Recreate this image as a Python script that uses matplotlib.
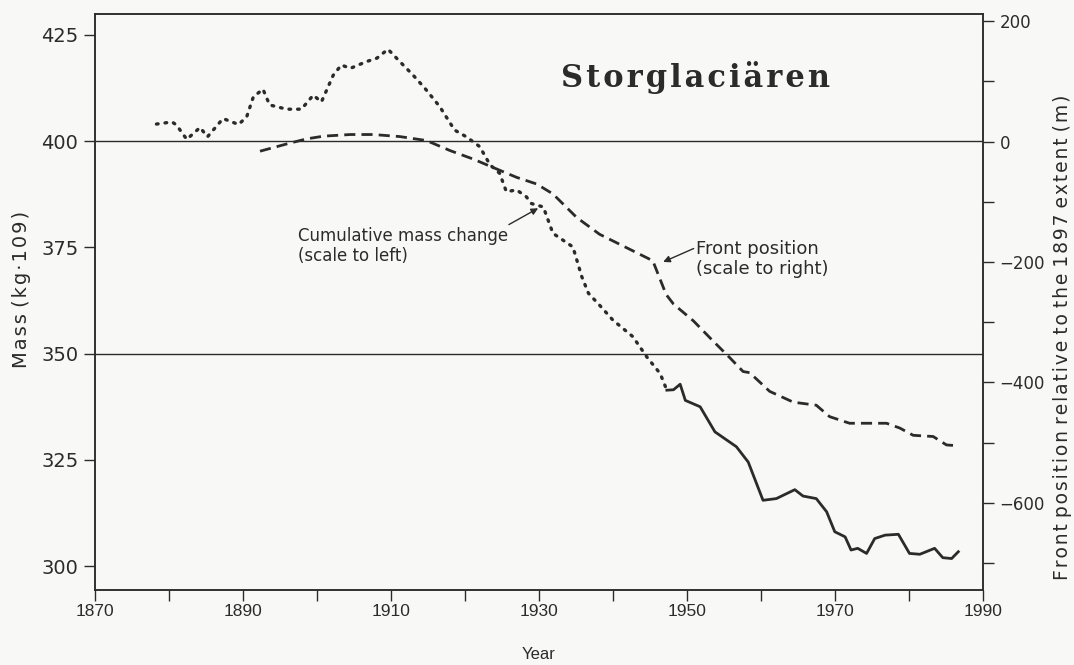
import numpy as np
import matplotlib
matplotlib.use("Agg")
import matplotlib.pyplot as plt
from matplotlib.ticker import MultipleLocator, FixedLocator

# cumulative mass change, dotted part (scale to left)
years_dot = [1878.3, 1880.4, 1881.0, 1882.4, 1884.2, 1885.2, 1887.3, 1889.4, 1890.5, 1891.4,
             1892.7, 1893.6, 1895.9, 1897.9, 1899.5, 1900.6, 1902.2, 1903.3, 1904.5, 1906.7,
             1908.1, 1909.6, 1911.2, 1913.0, 1914.6, 1916.6, 1918.6, 1920.2, 1922.0, 1923.4,
             1924.7, 1925.6, 1927.0, 1928.3, 1929.0, 1930.6, 1931.9, 1934.6, 1935.8, 1936.7,
             1938.2, 1940.0, 1942.7, 1944.6, 1946.4, 1947.3]
mass_dot = [404.0, 404.5, 403.8, 400.4, 403.2, 401.0, 405.3, 403.9, 405.7, 410.4,
            412.2, 408.5, 407.5, 407.5, 410.8, 409.2, 415.5, 417.9, 417.1, 418.7,
            419.5, 421.6, 418.7, 415.5, 412.4, 408.1, 402.6, 401.0, 398.7, 394.4,
            392.4, 388.1, 388.5, 386.9, 385.3, 384.5, 378.3, 375.1, 368.1, 364.2,
            361.4, 357.9, 354.0, 349.2, 345.3, 341.4]

# measured part, solid line
years_solid = [1947.3, 1948.2, 1949.1, 1949.8, 1951.8, 1953.8, 1956.7, 1958.3, 1960.3, 1962.1,
               1964.6, 1965.7, 1967.5, 1968.9, 1970.0, 1971.4, 1972.2, 1973.1, 1974.3, 1975.4,
               1976.8, 1978.6, 1980.1, 1981.5, 1983.5, 1984.6, 1985.8, 1986.7]
mass_solid = [341.4, 341.5, 342.8, 339.0, 337.5, 331.6, 328.1, 324.5, 315.5, 315.9,
              318.0, 316.5, 315.9, 312.8, 308.1, 306.9, 303.8, 304.2, 303.0, 306.5,
              307.3, 307.5, 303.0, 302.8, 304.2, 302.0, 301.8, 303.4]

# front position relative to 1897 (scale to right)
years_front = [1892.3, 1895.9, 1898.6, 1900.9, 1904.5, 1907.6, 1911.2, 1914.8, 1918.0, 1921.1,
               1923.8, 1927.0, 1929.7, 1931.9, 1935.1, 1938.2, 1941.8, 1945.4, 1947.2, 1948.2,
               1950.9, 1953.6, 1955.8, 1957.6, 1958.5, 1961.2, 1964.4, 1967.5, 1969.3, 1972.0,
               1977.0, 1978.8, 1980.6, 1983.3, 1985.1, 1986.2]
front_pos = [-16, -4, 4.5, 9, 11.7, 11.7, 8.3, 1.7, -15, -29,
             -43, -59.5, -70.5, -87, -126, -154, -176, -198, -254, -270,
             -298, -332, -359, -382, -384, -415, -433, -438, -457, -468,
             -468, -476, -488, -490, -504, -505]

year_ticks = [1870, 1890, 1910, 1930, 1950, 1970, 1990]
ref_lines = [400, 350]

ink = "#2b2b2b"
bg = "#f8f9f7"


def spaced(s, sep="\u200a"):
    # the scanned figure has loose letter spacing; leave word gaps alone
    out = s[0]
    for a, b in zip(s, s[1:]):
        if a != " " and b != " ":
            out += sep
        out += b
    return out


fig = plt.figure(figsize=(10.74, 6.65), dpi=100, facecolor=bg)
ax = fig.add_axes([0.0885, 0.1128, 0.8265, 0.8662])
ax.set_facecolor(bg)

ax.plot(years_dot, mass_dot, color=ink, lw=2.4, linestyle=(0, (0.5, 2.1)),
        dash_capstyle="round")
ax.plot(years_solid, mass_solid, color=ink, lw=2.0)
for yv in ref_lines:
    ax.axhline(yv, color=ink, lw=1.0)

ax.set_xlim(1870, 1990)
ax.set_ylim(294.4, 429.9)
ax.xaxis.set_major_locator(FixedLocator(year_ticks))
ax.xaxis.set_minor_locator(MultipleLocator(10))
ax.yaxis.set_major_locator(MultipleLocator(25))
ax.tick_params(axis="x", which="both", direction="out", length=8, width=1,
               colors=ink, labelsize=12.5, pad=2)
ax.tick_params(axis="y", direction="out", length=8, width=1, colors=ink,
               labelsize=14, pad=4)
for lab in ax.get_xticklabels():
    lab.set_fontfamily("Liberation Sans")
for sp in ax.spines.values():
    sp.set_color(ink)
    sp.set_linewidth(1.1)
ax.set_xlabel("Year", fontsize=12, color=ink, family="Liberation Sans", labelpad=20)
ax.set_ylabel(spaced("Mass (kg·109)"), fontsize=14, color=ink)
ax.yaxis.set_label_coords(-0.072, 0.521)

ax2 = ax.twinx()
ax2.plot(years_front, front_pos, color=ink, lw=2.0, linestyle=(0, (4, 2.2)))
ax2.set_ylim(-745, 212)
ax2.yaxis.set_major_locator(FixedLocator([-600, -400, -200, 0, 200]))
ax2.yaxis.set_minor_locator(MultipleLocator(100))
ax2.tick_params(axis="y", which="both", direction="out", length=8, width=1,
                colors=ink, labelsize=12, pad=4)
ax2.set_yticklabels([f"{int(v)}" if v >= 0 else f"\u2212{int(-v)}" for v in ax2.get_yticks()])
ax2.set_ylim(-745, 212)
for sp in ax2.spines.values():
    sp.set_color(ink)
    sp.set_linewidth(1.1)
ax2.set_ylabel(spaced("Front position relative to the 1897 extent (m)"), fontsize=13.5,
               color=ink)
ax2.yaxis.set_label_coords(1.079, 0.439)

ax.text(0.676, 0.889, spaced("Storglaciären"), transform=ax.transAxes,
        ha="center", va="center", fontsize=22, fontweight="bold",
        family="DejaVu Serif", color=ink)

ax.annotate("Cumulative mass change\n(scale to left)", xy=(1929.9, 384.2),
            xytext=(1897.5, 375.3), fontsize=12, color=ink, va="center",
            linespacing=1.1,
            arrowprops=dict(arrowstyle="-|>", color=ink, lw=1.0, mutation_scale=10,
                            shrinkA=0, shrinkB=0, relpos=(0.93, 0.85)))
ax2.annotate("Front position\n(scale to right)", xy=(1946.8, -200),
             xytext=(1951.3, -195), fontsize=13, color=ink, va="center",
             linespacing=1.1,
             arrowprops=dict(arrowstyle="-|>", color=ink, lw=1.0, mutation_scale=10,
                             shrinkA=0, shrinkB=0, relpos=(-0.02, 0.78)))

fig.savefig("out.png", dpi=100, facecolor=bg)
